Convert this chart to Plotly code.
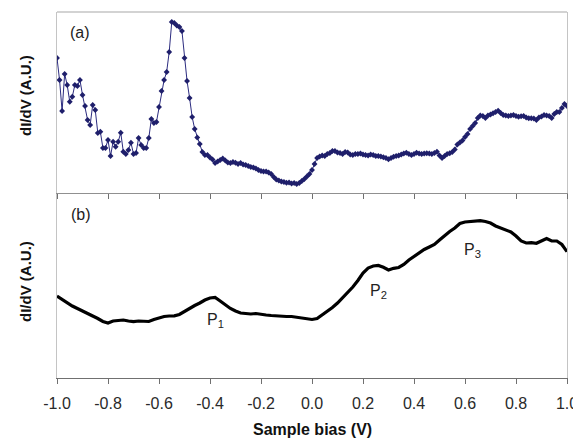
import plotly.graph_objects as go

# Sample bias values (V)
bias_a = [round(-1 + 0.01 * i, 2) for i in range(201)]
bias_b = [round(-1 + 0.02 * j, 2) for j in range(101)]

# Panel (a) dI/dV (A.U.)
didv_a = [
    135, 113, 82, 119, 108, 91.3, 96.3, 108, 107, 113,
    98, 87, 73, 68, 88, 83, 60, 61.3, 45, 45,
    53, 37, 51.3, 46.3, 51.3, 60.3, 41.3, 39, 43, 50.3,
    39, 40, 55, 48, 45, 45, 55, 74, 70, 71,
    86, 102, 113, 121, 141, 171, 170, 167.5, 166, 162,
    135, 112, 95, 76, 64, 55.5, 49, 41, 38, 38,
    35.5, 33.5, 30, 31.5, 33, 34.5, 32.5, 30.5, 30, 31,
    30.3, 29, 30, 28.5, 28, 27, 26, 25.5, 24.5, 23,
    22, 21.5, 21.5, 20.5, 19, 16, 13.5, 12.5, 11.5, 11,
    10.3, 10.5, 9.5, 10, 9, 10, 12, 14, 16.5, 19,
    23, 29, 35, 36.5, 37.5, 37, 39, 40, 42, 42,
    40.5, 40, 39, 41, 40.5, 38.5, 38, 39, 39, 39.5,
    38.5, 38, 37.5, 38.5, 38, 37, 37, 36.5, 35.7, 35,
    33.7, 35, 36.3, 37, 37.5, 38.5, 39.5, 40.3, 39, 38,
    39, 40.3, 39.5, 39, 39.5, 39.7, 39.5, 39, 40, 41.3,
    37.5, 35, 37, 39, 39.7, 41, 43.5, 48.5, 50.5, 52.5,
    56, 59, 64, 67, 70, 75, 77.5, 77, 75, 77.5,
    78.5, 79.7, 81, 82.3, 80, 78, 77.5, 77, 77.5, 78,
    77, 76.3, 76.7, 77, 75.5, 74.7, 74.7, 74.5, 73, 75.5,
    76.5, 78, 77.5, 77, 75, 79, 81, 81, 85, 89,
    87,
]

# Panel (b) dI/dV (A.U.)
didv_b = [
    82, 78.5, 75, 72, 69.5, 67, 65, 62.5, 59.5, 56.5,
    55, 57, 57.5, 58, 57, 56.3, 57, 56.5, 56.5, 58.5,
    60, 61.5, 62, 62.2, 63.5, 66.5, 70, 72.5, 75, 78,
    80, 80.5, 77, 73, 69.5, 67, 65, 64.5, 64, 64.5,
    63.5, 63, 62.5, 62, 61.5, 61.5, 61.5, 60.7, 60, 59.5,
    58.5, 59.5, 63, 66.5, 70.5, 75, 80, 85.5, 91, 97.5,
    105, 110, 112, 112.5, 110.7, 108, 109.7, 110.5, 113.5, 118,
    121.5, 125.5, 128.5, 131, 133.5, 138, 142.5, 146.5, 150, 154.5,
    156, 156.7, 157, 157.3, 156.5, 155, 152, 150, 147.5, 146,
    142, 137, 135, 135.3, 134.7, 137.3, 139.5, 137, 137, 133.5,
    126.3,
]

tick_vals = [-1.0, -0.8, -0.6, -0.4, -0.2, 0.0, 0.2, 0.4, 0.6, 0.8, 1.0]
tick_text = ["-1.0", "-0.8", "-0.6", "-0.4", "-0.2", "0.0", "0.2", "0.4", "0.6", "0.8", "1.0"]

peak_labels = ["P<sub>1</sub>", "P<sub>2</sub>", "P<sub>3</sub>"]
peak_x = [-0.38, 0.259, 0.631]
peak_y = [58, 87, 128]

FONT = "Liberation Sans, Arial, sans-serif"
split = 185 / 366

fig = go.Figure()
fig.add_trace(go.Scatter(
    x=bias_a, y=didv_a, xaxis="x2", yaxis="y2", mode="lines+markers",
    line=dict(color="#2c2c80", width=1),
    marker=dict(symbol="diamond", size=4.5, color="#1f1f6b"),
    showlegend=False,
))
fig.add_trace(go.Scatter(
    x=bias_b, y=didv_b, xaxis="x", yaxis="y", mode="lines",
    line=dict(color="#000000", width=3.2),
    showlegend=False,
))

fig.update_layout(
    width=573, height=431,
    margin=dict(l=49, r=14, t=4, b=61, autoexpand=False),
    paper_bgcolor="white", plot_bgcolor="rgba(0,0,0,0)",
    font=dict(family=FONT, size=16, color="#222222"),
    xaxis=dict(
        domain=[0, 1], range=[-1, 1], anchor="y",
        tickvals=tick_vals, ticktext=tick_text,
        ticks="outside", ticklen=5, tickcolor="#707070", tickwidth=1,
        showline=True, linecolor="#707070", linewidth=1,
        showgrid=False, zeroline=False, automargin=False,
        tickfont=dict(size=16, color="#2a2a2a"),
        ticklabelstandoff=6,
    ),
    yaxis=dict(
        domain=[0, split], range=[0, 185], anchor="x",
        showticklabels=False, ticks="", showgrid=False, zeroline=False,
        showline=True, mirror=True, linecolor="#c4c4c4", linewidth=1,
    ),
    xaxis2=dict(
        domain=[0, 1], range=[-1, 1], anchor="y2",
        tickvals=tick_vals, showticklabels=False,
        ticks="outside", ticklen=5, tickcolor="#707070", tickwidth=1,
        showline=True, linecolor="#909090", linewidth=1,
        showgrid=False, zeroline=False,
    ),
    yaxis2=dict(
        domain=[split, 1], range=[0, 181], anchor="x2",
        showticklabels=False, ticks="", showgrid=False, zeroline=False,
        showline=True, mirror=True, linecolor="#c4c4c4", linewidth=1,
    ),
    shapes=[dict(type="line", xref="paper", yref="paper", x0=0, x1=1, y0=1, y1=1,
                 line=dict(color="#c4c4c4", width=1.5))],
)

annotations = [
    dict(text="(a)", x=80, y=32.5),
    dict(text="(b)", x=80.5, y=215),
]
anns = []
for a in annotations:
    anns.append(dict(
        text=a["text"], xref="paper", yref="paper",
        x=(a["x"] - 57) / 510, y=1 - (a["y"] - 12) / 366,
        showarrow=False, xanchor="center", yanchor="middle",
        font=dict(size=16, color="#222222", family=FONT),
    ))
# y-axis titles
for yc in [96, 282]:
    anns.append(dict(
        text="<b>dI/dV (A.U.)</b>", xref="paper", yref="paper",
        x=(25 - 57) / 510, y=1 - (yc - 12) / 366, textangle=-90,
        showarrow=False, xanchor="center", yanchor="middle",
        font=dict(size=15, color="#111111", family=FONT),
    ))
# x-axis title
anns.append(dict(
    text="<b>Sample bias (V)</b>", xref="paper", yref="paper",
    x=0.5, y=1 - (429 - 12) / 366,
    showarrow=False, xanchor="center", yanchor="middle",
    font=dict(size=16, color="#111111", family=FONT),
))
for lbl, px, py in zip(peak_labels, peak_x, peak_y):
    anns.append(dict(
        text=lbl, xref="x", yref="y", x=px, y=py,
        showarrow=False, xanchor="center", yanchor="middle",
        font=dict(size=16, color="#222222", family=FONT),
    ))
fig.update_layout(annotations=anns)

fig.write_html("out.html")
